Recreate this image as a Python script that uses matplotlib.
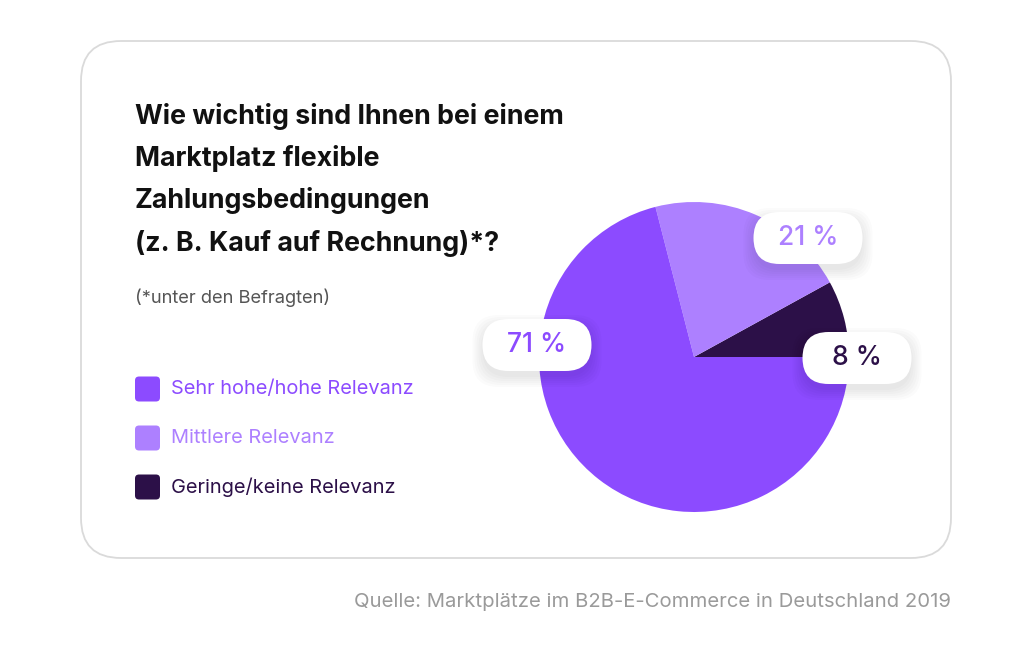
import matplotlib
matplotlib.use("Agg")
import matplotlib.pyplot as plt
from matplotlib.patches import FancyBboxPatch

plt.rcParams['font.family'] = ['Inter', 'DejaVu Sans']

title_lines = ["Wie wichtig sind Ihnen bei einem", "Marktplatz flexible",
               "Zahlungsbedingungen", "(z. B. Kauf auf Rechnung)*?"]
subtitle = "(*unter den Befragten)"
categories = ["Geringe/keine Relevanz", "Mittlere Relevanz", "Sehr hohe/hohe Relevanz"]
values = [8, 21, 71]
colors = ["#2C1048", "#AD80FF", "#8C4BFF"]
legend_order = [2, 1, 0]
source = "Quelle: Marktplätze im B2B-E-Commerce in Deutschland 2019"

W, H = 1024, 662
fig = plt.figure(figsize=(W / 100, H / 100), dpi=100)
ax = fig.add_axes([0, 0, 1, 1])

def Y(y):
    return H - y

# card
card = FancyBboxPatch((81 + 40, Y(558) + 40), 870 - 80, 517 - 80,
                      boxstyle="round,pad=40", fc="white", ec="#DADADA", lw=1.3)
ax.add_patch(card)

# title
for i, line in enumerate(title_lines):
    ax.text(135, Y(116 + i * 42.5), line, fontsize=19.3, fontweight="bold",
            color="#111111", va="center", ha="left")
ax.text(135, Y(298), subtitle, fontsize=13.2, color="#555555", va="center", ha="left")

# legend
for k, idx in enumerate(legend_order):
    yc = 389 + k * 49
    sq = FancyBboxPatch((135 + 4, Y(yc) - 12.5 + 4), 25 - 8, 25 - 8,
                        boxstyle="round,pad=4", fc=colors[idx], ec="none")
    ax.add_patch(sq)
    ax.text(171, Y(yc), categories[idx], fontsize=14.4, color=colors[idx],
            va="center", ha="left")

# pie
wedges, _ = ax.pie(values, colors=colors, startangle=0, counterclock=True,
                   center=(694, Y(357)), radius=155,
                   wedgeprops=dict(linewidth=0), frame=True)

# label pills
pill_pos = [(857, 358), (808, 238), (537, 345)]
for (cx, cy), v, idx in zip(pill_pos, values, range(3)):
    w, h = 109, 52
    for s in range(6):
        ax.add_patch(FancyBboxPatch((cx - w / 2 + 26 - s * 2, Y(cy) - h / 2 + 26 - 6 - s * 2),
                                    w - 52 + s * 4, h - 52 + s * 4,
                                    boxstyle="round,pad=26", fc="#000000", ec="none",
                                    alpha=0.016, zorder=5))
    ax.add_patch(FancyBboxPatch((cx - w / 2 + 26, Y(cy) - h / 2 + 26), w - 52, h - 52,
                                boxstyle="round,pad=26", fc="white", ec="none", zorder=6))
    ax.text(cx, Y(cy), f"{v} %", fontsize=19, color=colors[idx],
            va="center", ha="center", zorder=7, fontweight="medium")

ax.text(951, Y(602), source, fontsize=14.6, color="#9A9A9A", va="center", ha="right")

ax.set_xlim(0, W)
ax.set_ylim(0, H)
ax.set_aspect("auto")
ax.set_axis_off()
fig.savefig("out.png", dpi=100, facecolor="white")
